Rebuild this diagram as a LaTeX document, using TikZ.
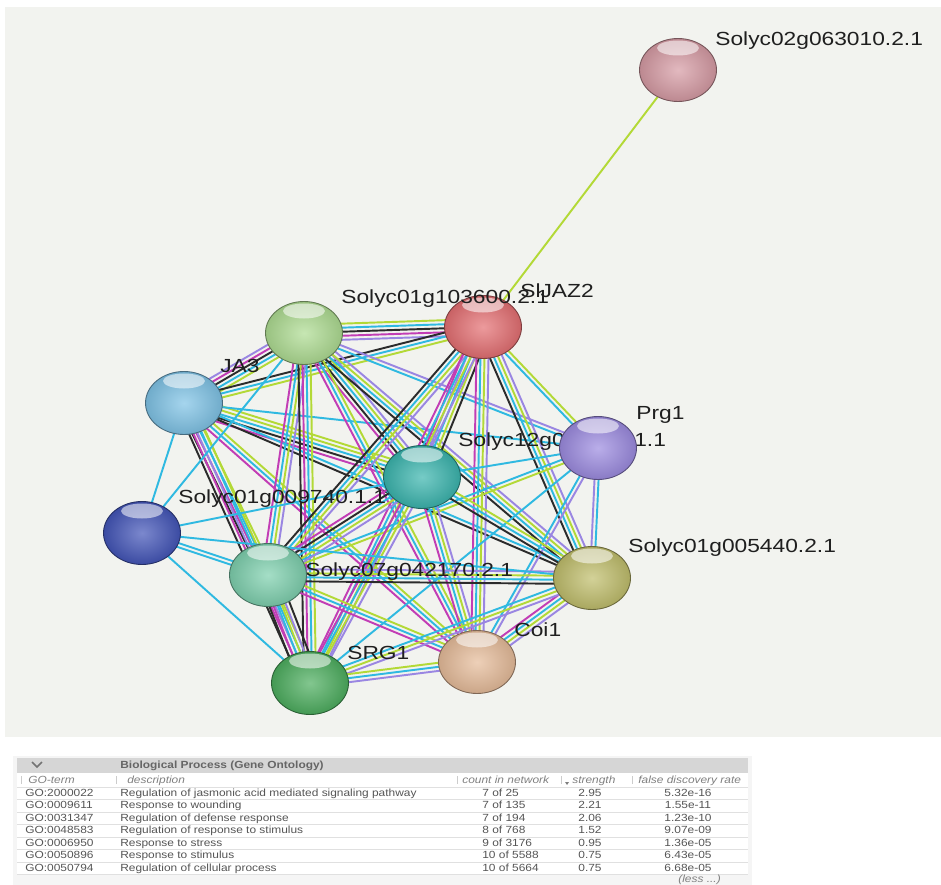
\documentclass[tikz,border=0pt]{standalone}
\usepackage{fontspec}
\setmainfont{Liberation Sans}
\newfontfamily\labfont[FakeStretch=1.2]{Liberation Sans}
\newfontfamily\tabfont[FakeStretch=1.15]{Liberation Sans}
\usetikzlibrary{shapes.geometric,calc}

\pgfdeclarelayer{panel}
\pgfdeclarelayer{edges}
\pgfsetlayers{panel,edges,main}

\definecolor{netbg}{HTML}{F2F3EF}
\definecolor{ecyan}{HTML}{2FB9E1}
\definecolor{emag}{HTML}{C23DB5}
\definecolor{eblack}{HTML}{2B2B2B}
\definecolor{elime}{HTML}{B3D936}
\definecolor{elav}{HTML}{9A86E2}
\definecolor{cpink}{HTML}{D69BA4}
\definecolor{cred}{HTML}{E46F72}
\definecolor{clgreen}{HTML}{AEDC92}
\definecolor{clblue}{HTML}{7FC3E6}
\definecolor{cpurple}{HTML}{9C8BE0}
\definecolor{cteal}{HTML}{3BB5AE}
\definecolor{cdblue}{HTML}{4355B8}
\definecolor{cmint}{HTML}{7ED0AE}
\definecolor{colive}{HTML}{C0BE6C}
\definecolor{cpeach}{HTML}{E6BC9A}
\definecolor{cgreen}{HTML}{4DAE5F}
\definecolor{tabtext}{HTML}{555555}
\definecolor{tabhead}{HTML}{808080}

\tikzset{
  protein/.style={ellipse, minimum width=1.54cm, minimum height=1.26cm, inner sep=0pt,
    inner color=#1!70!white, outer color=#1!88!black, draw=#1!55!black, line width=0.5pt,
    path picture={\fill[white, opacity=0.55] ($(path picture bounding box.north)+(0,-0.19cm)$) ellipse (0.42cm and 0.15cm);}},
  genelabel/.style={anchor=base west, inner sep=0pt, text=black!88, font=\labfont\fontsize{10.8}{12}\selectfont},
  tabcell/.style={anchor=base west, inner sep=0pt, text=tabtext, font=\tabfont\fontsize{5.9}{7}\selectfont},
  tabhd/.style={tabcell, text=tabhead, font=\tabfont\itshape\fontsize{5.9}{7}\selectfont},
}

\newcommand{\bundle}[4]{%
  \foreach \c [count=\i] in {#4}{
    \pgfmathsetlengthmacro\off{(\i-(#3+1)/2)*2.3pt}
    \draw[\c, line width=1.1pt] ($(#1)!\off!90:(#2)$) -- ($(#2)!\off!-90:(#1)$);
  }}

\begin{document}
\begin{tikzpicture}[x=0.02cm, y=-0.02cm]
\useasboundingbox (0,0) rectangle (941,885);
\begin{pgfonlayer}{panel}
  \fill[netbg] (5,7) rectangle (941,737);
  \fill[black!4] (13,756) rectangle (752,885);
  \fill[black!16] (17,758) rectangle (748,773);
  \fill[white] (17,773) rectangle (748,874);
  \foreach \r in {1,...,8} \draw[black!12, line width=0.3pt] (17,{774.5+12.5*\r}) -- (748,{774.5+12.5*\r});
  \foreach \x in {21,116,457,561,632} \draw[black!20, line width=0.4pt] (\x,776) -- (\x,784);
\end{pgfonlayer}

\node[genelabel] (l-s02) at (715,46) {Solyc02g063010.2.1};
\node[genelabel] (l-jaz) at (520,298) {SlJAZ2};
\node[genelabel] (l-ja3) at (220,373) {JA3};
\node[genelabel] (l-prg) at (636,420) {Prg1};
\node[genelabel] (l-s12) at (458,447) {Solyc12g009220.1.1};
\node[genelabel] (l-g097) at (178,503) {Solyc01g009740.1.1};
\node[genelabel] (l-s07) at (305,577) {Solyc07g042170.2.1};
\node[genelabel] (l-g054) at (628,553) {Solyc01g005440.2.1};
\node[genelabel] (l-coi) at (514,637) {Coi1};
\node[genelabel] (l-srg) at (347,660) {SRG1};

\node[protein=cpink] (s02) at (678,70) {};
\node[protein=cred] (jaz) at (483,327) {};
\node[protein=clgreen] (g103) at (304,333) {};
\node[protein=clblue] (ja3) at (184,403) {};
\node[protein=cpurple] (prg) at (598,448) {};
\node[protein=cteal] (s12) at (422,477) {};
\node[protein=cdblue] (g097) at (142,533) {};
\node[protein=cmint] (s07) at (268,575) {};
\node[protein=colive] (g054) at (592,578) {};
\node[protein=cpeach] (coi) at (477,662) {};
\node[protein=cgreen] (srg) at (310,683) {};
\node[genelabel] (l-g103) at (341,304) {Solyc01g103600.2.1};

\begin{pgfonlayer}{edges}
  \bundle{s02}{jaz}{1}{elime}
  \bundle{g103}{jaz}{5}{elav,emag,eblack,ecyan,elime}
  \bundle{g103}{ja3}{5}{elav,emag,eblack,ecyan,elime}
  \bundle{jaz}{ja3}{3}{eblack,ecyan,elime}
  \bundle{ja3}{s12}{5}{emag,eblack,ecyan,elime,elime}
  \bundle{ja3}{s07}{4}{eblack,emag,ecyan,elime}
  \bundle{ja3}{srg}{5}{eblack,emag,elav,ecyan,elime}
  \bundle{ja3}{g097}{1}{ecyan}
  \bundle{ja3}{g054}{2}{eblack,ecyan}
  \bundle{ja3}{coi}{3}{emag,ecyan,elime}
  \bundle{ja3}{prg}{1}{ecyan}
  \bundle{g103}{s12}{5}{emag,eblack,ecyan,elime,elav}
  \bundle{g103}{s07}{4}{emag,ecyan,elime,elav}
  \bundle{g103}{srg}{4}{eblack,emag,ecyan,elime}
  \bundle{g103}{g054}{4}{eblack,ecyan,elime,elav}
  \bundle{g103}{coi}{3}{emag,ecyan,elime}
  \bundle{g103}{prg}{2}{ecyan,elav}
  \bundle{g103}{g097}{1}{ecyan}
  \bundle{jaz}{s12}{5}{emag,elav,ecyan,elime,eblack}
  \bundle{jaz}{s07}{4}{eblack,ecyan,elime,elav}
  \bundle{jaz}{srg}{4}{emag,ecyan,elime,elav}
  \bundle{jaz}{g054}{4}{eblack,ecyan,elime,elav}
  \bundle{jaz}{coi}{4}{emag,ecyan,elime,elav}
  \bundle{jaz}{prg}{2}{ecyan,elime}
  \bundle{prg}{g054}{2}{elav,ecyan}
  \bundle{prg}{s12}{1}{ecyan}
  \bundle{prg}{s07}{2}{ecyan,elime}
  \bundle{prg}{srg}{1}{ecyan}
  \bundle{prg}{coi}{2}{ecyan,elav}
  \bundle{s12}{s07}{5}{emag,eblack,ecyan,elime,elav}
  \bundle{s12}{srg}{4}{emag,ecyan,elime,elav}
  \bundle{s12}{g054}{3}{eblack,ecyan,elime}
  \bundle{s12}{coi}{4}{emag,ecyan,elime,elav}
  \bundle{s12}{g097}{1}{ecyan}
  \bundle{s07}{srg}{6}{eblack,emag,ecyan,elime,elav,eblack}
  \bundle{s07}{g054}{4}{eblack,ecyan,elime,elav}
  \bundle{s07}{coi}{3}{emag,ecyan,elime}
  \bundle{s07}{g097}{2}{ecyan,ecyan}
  \bundle{g054}{coi}{4}{emag,ecyan,elime,elav}
  \bundle{g054}{srg}{3}{ecyan,elime,elav}
  \bundle{srg}{coi}{3}{elav,ecyan,elime}
  \bundle{srg}{g097}{1}{ecyan}
  \bundle{g097}{g054}{1}{ecyan}
\end{pgfonlayer}

\draw[black!55, line width=0.9pt] (32,762) -- (37,767) -- (42,762);
\node[tabcell, text=black!60, font=\tabfont\bfseries\fontsize{5.9}{7}\selectfont] (title) at (120,768) {Biological Process (Gene Ontology)};
\node[tabhd] (h-go) at (28,783) {GO-term};
\node[tabhd] (h-desc) at (127,783) {description};
\node[tabhd] (h-cnt) at (462,783) {count in network};
\node[tabhd] (h-str) at (572,783) {strength};
\node[tabhd] (h-fdr) at (638,783) {false discovery rate};
\fill[tabhead] (565,782) -- (569,782) -- (567,785) -- cycle;
\foreach \id/\desc/\cnt/\str/\fdr [count=\r] in {
  GO:2000022/Regulation of jasmonic acid mediated signaling pathway/7 of 25/2.95/5.32e-16,
  GO:0009611/Response to wounding/7 of 135/2.21/1.55e-11,
  GO:0031347/Regulation of defense response/7 of 194/2.06/1.23e-10,
  GO:0048583/Regulation of response to stimulus/8 of 768/1.52/9.07e-09,
  GO:0006950/Response to stress/9 of 3176/0.95/1.36e-05,
  GO:0050896/Response to stimulus/10 of 5588/0.75/6.43e-05,
  GO:0050794/Regulation of cellular process/10 of 5664/0.75/6.68e-05}{
  \node[tabcell] (go\r) at (25,{783.5+12.5*\r}) {\id};
  \node[tabcell] (desc\r) at (120,{783.5+12.5*\r}) {\desc};
  \node[tabcell] (cnt\r) at (482,{783.5+12.5*\r}) {\cnt};
  \node[tabcell, anchor=base] (str\r) at (590,{783.5+12.5*\r}) {\str};
  \node[tabcell, anchor=base] (fdr\r) at (688,{783.5+12.5*\r}) {\fdr};
}
\node[tabhd] (less) at (678,882) {(less ...)};
\end{tikzpicture}
\end{document}
